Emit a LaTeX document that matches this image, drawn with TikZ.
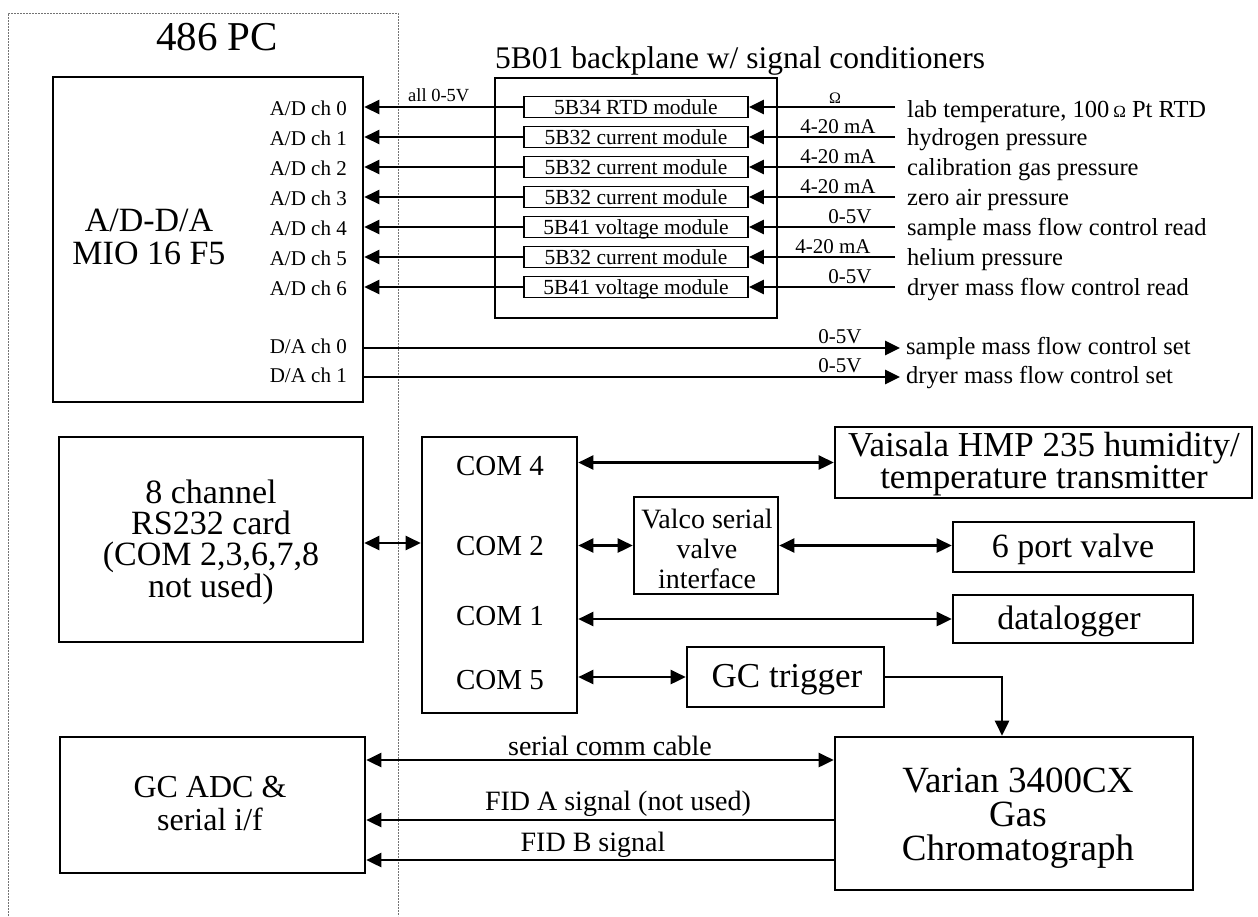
\documentclass[tikz,border=0pt]{standalone}
\usepackage{fontspec}
\setmainfont{Liberation Serif}
\usetikzlibrary{arrows.meta}
\newcommand\fsz[2]{\fontsize{#1}{#2}\selectfont\lineskiplimit=-\maxdimen}
\begin{document}
\begin{tikzpicture}[x=1pt,y=-1pt,
  >={Triangle[length=15pt,width=14pt]},
  box/.style={draw, line width=2.6pt, inner sep=0pt, rectangle},
  modbox/.style={draw, line width=1.8pt, minimum width=224pt, minimum height=21pt, inner sep=0pt, font=\fsz{21.5}{22}, text height=14pt, text depth=0pt},
  conn/.style={line width=2.6pt},
  pcline/.style={line width=1pt, black!55, dash pattern=on 2pt off 1pt},
  chl/.style={font=\fsz{21}{22}, anchor=base east, inner sep=0pt},
  rt/.style={font=\fsz{24.5}{26}, anchor=base west, inner sep=0pt},
  sig/.style={font=\fsz{21}{22}, anchor=base, inner sep=0pt},
  ctext/.style={anchor=base, inner sep=0pt, align=center}
]
\useasboundingbox (0,0) rectangle (1258,916);

% PC enclosure
\draw[pcline] (8,916) -- (8,13) -- (398,13) -- (398,916);
\node[ctext, font=\fsz{41}{41}] (pctitle) at (217,50) {486 PC};

% A/D-D/A board
\node[box, minimum width=310pt, minimum height=325pt] (mio) at (208,239.5) {};
\node[ctext, font=\fsz{34}{33}] (miotxt) at (149,264) {A/D-D/A\\MIO 16 F5};

% backplane
\node[box, minimum width=282pt, minimum height=240pt] (bp) at (636,198) {};
\node[anchor=base west, inner sep=0pt, font=\fsz{31.5}{31}] (bptitle) at (495,68) {5B01 backplane w/ signal conditioners};

\foreach \i/\t in {0/5B34 RTD module,1/5B32 current module,2/5B32 current module,3/5B32 current module,4/5B41 voltage module,5/5B32 current module,6/5B41 voltage module}{
  \node[modbox] (m\i) at (636,{107+30*\i}) {\t};
  \node[chl] (ad\i) at (347,{115+30*\i}) {A/D ch \i};
  \coordinate (r\i) at (895,{107+30*\i});
  \draw[conn,->] (r\i) -- (m\i.east);
  \draw[conn,->] (m\i.west) -- (mio.east |- m\i.west);
}
\node[anchor=base west, inner sep=0pt, font=\fsz{18.5}{20}] (all05) at (408,101) {all 0-5V};

% signal labels
\node[sig, font=\fsz{16}{18}] (s0l) at (835,103) {Ω};
\node[sig] (s1l) at (838,133) {4-20 mA};
\node[sig] (s2l) at (838,163) {4-20 mA};
\node[sig] (s3l) at (838,193) {4-20 mA};
\node[sig] (s4l) at (850,223) {0-5V};
\node[sig] (s5l) at (833,253) {4-20 mA};
\node[sig] (s6l) at (850,283) {0-5V};

% sensor names
\node[rt] (t0) at (907,117) {lab temperature, 100\,{\fontsize{17}{18}\selectfont Ω} Pt RTD};
\node[rt] (t1) at (907,145) {hydrogen pressure};
\node[rt] (t2) at (907,175) {calibration gas pressure};
\node[rt] (t3) at (907,205) {zero air pressure};
\node[rt] (t4) at (907,235) {sample mass flow control read};
\node[rt] (t5) at (907,265) {helium pressure};
\node[rt] (t6) at (907,295) {dryer mass flow control read};

% D/A outputs
\node[chl] (da0) at (347,353) {D/A ch 0};
\node[chl] (da1) at (347,382) {D/A ch 1};
\coordinate (o0) at (900,348);
\coordinate (o1) at (900,377);
\draw[conn,->] (mio.east |- o0) -- (o0);
\draw[conn,->] (mio.east |- o1) -- (o1);
\node[sig] (o0l) at (840,343) {0-5V};
\node[sig] (o1l) at (840,372) {0-5V};
\node[rt] (o0t) at (906,354) {sample mass flow control set};
\node[rt] (o1t) at (906,383) {dryer mass flow control set};

% RS232 card
\node[box, minimum width=304pt, minimum height=205pt] (rs) at (211,539.5) {};
\node[ctext, font=\fsz{34}{31.3}] (rstxt) at (211,597) {8 channel\\RS232 card\\(COM 2,3,6,7,8\\not used)};

% COM box
\node[box, minimum width=155pt, minimum height=276pt] (com) at (499.5,575) {};
\node[ctext, font=\fsz{29}{29}] (c4) at (500,475) {COM 4};
\node[ctext, font=\fsz{29}{29}] (c2) at (500,555) {COM 2};
\node[ctext, font=\fsz{29}{29}] (c1) at (500,625) {COM 1};
\node[ctext, font=\fsz{29}{29}] (c5) at (500,689) {COM 5};
\coordinate (rsy) at (0,543);
\draw[conn,<->] (rs.east |- rsy) -- (com.west |- rsy);

% peripherals
\node[box, minimum width=417pt, minimum height=71pt] (vai) at (1043.5,462.5) {};
\node[ctext, font=\fsz{35}{32}] (vaitxt) at (1044,488) {Vaisala HMP 235 humidity/\\temperature transmitter};
\node[box, minimum width=144pt, minimum height=97pt] (valco) at (706,545.5) {};
\node[ctext, font=\fsz{28}{30}] (valcotxt) at (707,588) {Valco serial\\valve\\interface};
\node[box, minimum width=241pt, minimum height=50pt] (pv) at (1073.5,547) {};
\node[ctext, font=\fsz{34}{34}] (pvtxt) at (1073,557) {6 port valve};
\node[box, minimum width=240pt, minimum height=48pt] (dl) at (1073,619) {};
\node[ctext, font=\fsz{34}{34}] (dltxt) at (1069,629) {datalogger};
\node[box, minimum width=197pt, minimum height=60pt] (gct) at (785.5,677) {};
\node[ctext, font=\fsz{35}{35}] (gcttxt) at (787,687) {GC trigger};
\node[box, minimum width=358pt, minimum height=153pt] (var) at (1014,813.5) {};
\node[ctext, font=\fsz{37}{34}] (vartxt) at (1018,860) {Varian 3400CX\\Gas\\Chromatograph};

\draw[conn,<->] (com.east |- vai.west) -- (vai.west);
\draw[conn,<->] (com.east |- valco.west) -- (valco.west);
\draw[conn,<->] (valco.east) -- (pv.west |- valco.east);
\draw[conn,<->] (com.east |- dl.west) -- (dl.west);
\draw[conn,<->] (com.east |- gct.west) -- (gct.west);
\coordinate (trig) at (1002,677);
\draw[conn,->] (gct.east) -- (trig) -- (trig |- var.north);

% GC ADC
\node[box, minimum width=305pt, minimum height=136pt] (adc) at (212.5,805) {};
\node[ctext, font=\fsz{32}{33}] (adctxt) at (210,830) {GC ADC \&\\serial i/f};
\coordinate (ya) at (0,760);
\coordinate (yb) at (0,820);
\coordinate (yc) at (0,860);
\draw[conn,<->] (adc.east |- ya) -- (var.west |- ya);
\draw[conn,->] (var.west |- yb) -- (adc.east |- yb);
\draw[conn,->] (var.west |- yc) -- (adc.east |- yc);
\node[ctext, font=\fsz{28}{28}] (la) at (610,755) {serial comm cable};
\node[ctext, font=\fsz{28}{28}] (lb) at (618,810) {FID A signal (not used)};
\node[ctext, font=\fsz{28}{28}] (lc) at (593,851) {FID B signal};
\end{tikzpicture}
\end{document}
